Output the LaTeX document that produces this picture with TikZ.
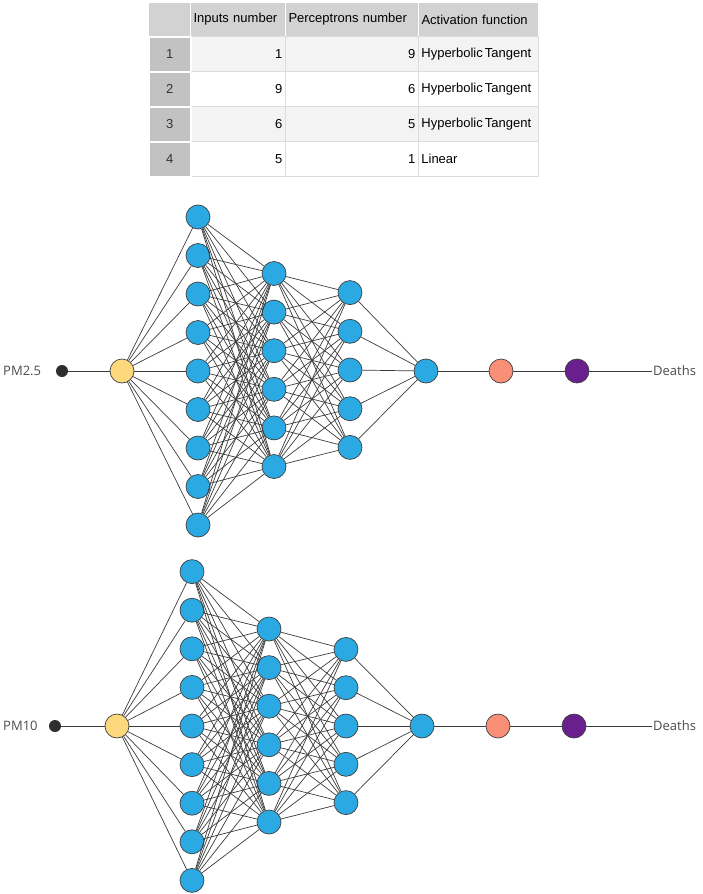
\documentclass[tikz,border=0pt]{standalone}
\usepackage{fontspec}
\setmainfont{Liberation Sans}
\newfontfamily\labelfont{Open Sans}
\usetikzlibrary{positioning}
\definecolor{nodeblue}{HTML}{2AA9E2}
\definecolor{nodeyellow}{HTML}{FDD87D}
\definecolor{nodesalmon}{HTML}{FA8F78}
\definecolor{nodepurple}{HTML}{6A1F8E}
\definecolor{dotgrey}{HTML}{2E2E2E}
\definecolor{edgegrey}{HTML}{3C3C3C}
\definecolor{textgrey}{HTML}{4D4D4D}
\definecolor{hdrgrey}{HTML}{D2D2D2}
\definecolor{idxgrey}{HTML}{C2C2C2}
\definecolor{rowgrey}{HTML}{F3F3F3}
\definecolor{gridgrey}{HTML}{DCDCDC}

\begin{document}
\begin{tikzpicture}[x=1pt, y=-1pt,
  neuron/.style={circle, draw=black!75, line width=0.7pt, fill=nodeblue,
                 minimum size=24pt, inner sep=0pt},
  innode/.style={neuron, fill=nodeyellow},
  scalenode/.style={neuron, fill=nodesalmon},
  outnode/.style={neuron, fill=nodepurple},
  dotnode/.style={circle, fill=dotgrey, minimum size=12pt, inner sep=0pt},
  edge/.style={draw=edgegrey, line width=0.7pt},
  lbl/.style={font=\labelfont\fontsize{13}{15}\selectfont, text=textgrey, inner sep=1pt},
  hdr/.style={anchor=north west, fill=hdrgrey, draw=white, line width=1pt,
              minimum height=34pt, inner xsep=3pt, inner ysep=0pt, align=left,
              font=\fontsize{13}{15}\selectfont},
  idx/.style={anchor=north west, fill=idxgrey, draw=white, line width=1.5pt,
              minimum width=42pt, minimum height=35pt, inner sep=0pt,
              font=\fontsize{13}{15}\selectfont, text=black!80},
  body/.style={anchor=north west, draw=gridgrey, line width=0.8pt,
               minimum height=35pt, inner xsep=3pt, inner ysep=0pt,
               font=\fontsize{13}{15}\selectfont}
]
\useasboundingbox[fill=white] (0,0) rectangle (703,894);

% Table
\node[hdr, minimum width=42pt, inner xsep=0pt] (h0) at (148,2) {};
\node[hdr, text width=89pt] (h1) at (190,2) {Inputs number};
\node[hdr, text width=127pt] (h2) at (285,2) {Perceptrons number};
\node[hdr, text width=114pt] (h3) at (418,2) {Activation function};
\foreach \r/\ni/\np/\fn/\bg in {1/1/9/{Hyperbolic\,Tangent}/rowgrey,
    2/9/6/{Hyperbolic\,Tangent}/white, 3/6/5/{Hyperbolic\,Tangent}/rowgrey,
    4/5/1/Linear/white}{
  \pgfmathsetmacro\ytop{36+(\r-1)*35}
  \node[body, fill=\bg, text width=89pt, align=right] (r\r-c1) at (190,\ytop) {\ni};
  \node[body, fill=\bg, text width=127pt, align=right] (r\r-c2) at (285,\ytop) {\np};
  \node[body, fill=\bg, text width=114pt, align=left] (r\r-c3) at (418,\ytop) {\fn};
  \node[idx] (r\r-c0) at (148,\ytop) {\r};
}

% Network 1 (PM2.5)
\node[lbl, anchor=west] (a-lbl) at (2,371) {PM2.5};
\node[dotnode] (a-in) at (62,371) {};
\node[innode] (a-y) at (122,371) {};
\foreach \i in {1,...,9} \node[neuron] (a1-\i) at (198,{371+(\i-5)*38.5}) {};
\foreach \j in {1,...,6} \node[neuron] (a2-\j) at (274,{370+(\j-3.5)*38.6}) {};
\foreach \k in {1,...,5} \node[neuron] (a3-\k) at (350,{370+(\k-3)*38.7}) {};
\node[neuron] (a-out) at (426,371) {};
\node[scalenode] (a-sc) at (501,371) {};
\node[outnode] (a-dn) at (577,371) {};
\node[lbl, anchor=west] (a-deaths) at (652,371) {Deaths};

\draw[edge] (a-in) -- (a-y);
\foreach \i in {1,...,9} {
  \draw[edge] (a-y) -- (a1-\i);
  \foreach \j in {1,...,6} \draw[edge] (a1-\i) -- (a2-\j);
}
\foreach \j in {1,...,6} \foreach \k in {1,...,5} \draw[edge] (a2-\j) -- (a3-\k);
\foreach \k in {1,...,5} \draw[edge] (a3-\k) -- (a-out);
\draw[edge] (a-out) -- (a-sc) -- (a-dn) -- (a-deaths.west);

% Network 2 (PM10)
\node[lbl, anchor=west] (b-lbl) at (2,726) {PM10};
\node[dotnode] (b-in) at (55,726) {};
\node[innode] (b-y) at (117,726) {};
\foreach \i in {1,...,9} \node[neuron] (b1-\i) at (192,{726+(\i-5)*38.6}) {};
\foreach \j in {1,...,6} \node[neuron] (b2-\j) at (269,{725.5+(\j-3.5)*38.6}) {};
\foreach \k in {1,...,5} \node[neuron] (b3-\k) at (346,{726+(\k-3)*38.3}) {};
\node[neuron] (b-out) at (422,726) {};
\node[scalenode] (b-sc) at (498,726) {};
\node[outnode] (b-dn) at (574,726) {};
\node[lbl, anchor=west] (b-deaths) at (652,726) {Deaths};

\draw[edge] (b-in) -- (b-y);
\foreach \i in {1,...,9} {
  \draw[edge] (b-y) -- (b1-\i);
  \foreach \j in {1,...,6} \draw[edge] (b1-\i) -- (b2-\j);
}
\foreach \j in {1,...,6} \foreach \k in {1,...,5} \draw[edge] (b2-\j) -- (b3-\k);
\foreach \k in {1,...,5} \draw[edge] (b3-\k) -- (b-out);
\draw[edge] (b-out) -- (b-sc) -- (b-dn) -- (b-deaths.west);

\end{tikzpicture}
\end{document}
